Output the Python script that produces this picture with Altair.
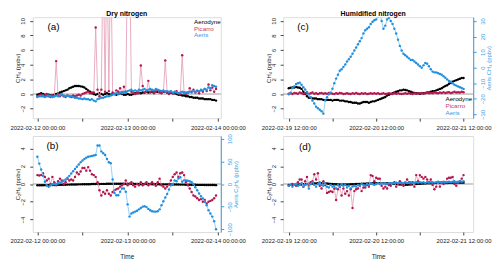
import altair as alt
import pandas as pd

# ---------------- data ----------------
# Dry nitrogen, 30-min steps starting 2022-02-12 00:00 (96 points)
dry_ch4_aerodyne = [
    -0.1, 0.0, 0.1, 0.0, -0.1, -0.2, -0.1, -0.2, -0.2, -0.1,
    0.0, 0.1, 0.2, 0.3, 0.4, 0.5, 0.6, 0.8, 0.9, 1.0,
    1.1, 1.1, 1.1, 1.05, 1.0, 0.9, 0.7, 0.5, 0.3, 0.1,
    0.0, -0.1, 0.0, 0.1, 0.0, -0.1, 0.0, 0.1, 0.0, -0.1,
    0.0, 0.0, -0.1, 0.0, 0.1, 0.0, -0.1, -0.1, 0.0, -0.1,
    -0.1, 0.0, 0.1, 0.1, 0.2, 0.1, 0.2, 0.2, 0.3, 0.2,
    0.3, 0.3, 0.2, 0.3, 0.3, 0.4, 0.3, 0.3, 0.3, 0.2,
    0.2, 0.2, 0.1, 0.1, 0.0, -0.1, -0.1, -0.2, -0.2, -0.3,
    -0.3, -0.4, -0.4, -0.5, -0.5, -0.5, -0.6, -0.6, -0.6, -0.7,
    -0.7, -0.7, -0.7, -0.8, -0.8, -0.9,
]
dry_ch4_picarro = [
    -0.3, -0.2, -0.1, -0.3, -0.2, 0.0, -0.3, -0.4, -0.2, -0.3,
    4.5, -0.2, -0.3, -0.1, -0.3, -0.4, -0.2, -0.3, -0.4, -0.2,
    -0.3, -0.2, -0.1, -0.2, 0.0, 0.1, 0.2, 0.3, 0.1, 0.2,
    0.2, 9.1, 0.6, -0.3, 0.6, 20.0, 0.3, 20.0, 0.4, 20.0,
    0.2, 0.0, 0.5, 0.3, 0.8, 0.2, 1.0, 0.3, 20.0, 20.0,
    0.3, 0.1, 0.0, 0.2, 0.1, 3.9, 1.1, 0.2, 0.3, 1.8,
    0.2, 0.4, 0.1, 0.3, 0.5, 0.2, 0.1, 0.3, 4.6, 0.2,
    0.0, 0.3, 0.1, 0.2, 0.4, 0.1, 0.0, 5.3, 0.2, 0.0,
    0.2, 0.8, 0.3, 0.6, 0.2, 0.4, 0.1, 0.5, 0.3, 0.7,
    0.4, 1.3, 0.5, 0.9, 0.3, 0.7,
]
dry_ch4_aeris = [
    -0.4, -0.3, -0.3, -0.2, -0.4, -0.3, -0.2, -0.3, -0.4, -0.3,
    -0.2, -0.3, -0.2, -0.1, -0.2, -0.3, -0.2, -0.3, -0.3, -0.4,
    -0.5, -0.5, -0.6, -0.6, -0.7, -0.6, -0.7, -0.7, -0.8, -0.7,
    -0.9, -1.0, -0.7, -0.6, -0.5, -0.5, -0.4, -0.3, -0.3, -0.2,
    -0.1, 0.0, 0.1, 0.0, 0.2, 0.1, 0.3, 0.2, 0.4, 0.5,
    0.6, 0.4, 0.5, 0.4, 0.6, 0.5, 0.6, 0.7, 0.5, 0.6,
    0.7, 0.6, 0.5, 0.7, 0.6, 0.5, 0.4, 0.5, 0.3, 0.4,
    0.3, 0.4, 0.2, 0.3, 0.2, 0.1, 0.2, 0.3, 0.1, 0.2,
    0.1, 0.3, 0.2, 0.4, 0.3, 0.5, 0.4, 0.6, 0.5, 0.7,
    0.6, 0.9, 0.8, 1.2, 1.1, 1.0,
]
dry_c2h6_aerodyne = [
    -0.15, -0.15, -0.14, -0.15, -0.13, -0.14, -0.13, -0.12, -0.12, -0.11,
    -0.1, -0.1, -0.09, -0.09, -0.08, -0.08, -0.07, -0.07, -0.06, -0.06,
    -0.05, -0.05, -0.04, -0.04, -0.03, -0.03, -0.02, -0.02, -0.02, -0.01,
    -0.01, 0.0, 0.0, 0.0, 0.01, 0.01, 0.01, 0.02, 0.02, 0.02,
    0.02, 0.02, 0.03, 0.03, 0.03, 0.03, 0.03, 0.03, 0.02, 0.02,
    0.02, 0.02, 0.01, 0.01, 0.01, 0.0, 0.0, 0.0, -0.01, -0.01,
    -0.01, -0.02, -0.02, -0.02, -0.03, -0.03, -0.03, -0.04, -0.04, -0.04,
    -0.05, -0.05, -0.05, -0.06, -0.06, -0.06, -0.07, -0.07, -0.07, -0.08,
    -0.08, -0.08, -0.09, -0.09, -0.09, -0.1, -0.1, -0.1, -0.1, -0.11,
    -0.11, -0.11, -0.12, -0.12, -0.12, -0.13,
]
dry_c2h6_picarro = [
    1.0, 0.95, 1.0, 1.2, 0.8, 0.4, 0.6, 0.0, 0.8, 0.2,
    -0.15, 0.3, 0.6, 0.4, 0.0, 0.2, 0.6, 0.4, 0.5, 0.4,
    0.8, 1.3, 1.1, 1.4, 1.8, 1.8, 1.5, 1.9, 1.5, 1.1,
    1.0, 0.8, 0.2, -0.7, -1.3, -0.9, -1.1, -0.7, -1.1, -1.3,
    -0.9, -0.7, -0.6, -0.5, -0.3, -0.15, 0.0, 0.4, -0.15, 0.0,
    0.2, -0.15, -0.3, 0.0, -0.15, 0.2, -0.15, 0.0, 0.2, -0.15,
    0.0, 0.2, 0.0, -0.2, 0.2, 0.6, -0.15, -0.3, -0.5, -0.3,
    0.0, 0.4, 0.8, 1.1, 1.3, 0.8, 1.2, 1.3, 1.0, 0.2,
    -0.15, -0.5, -0.9, -1.3, -1.4, -1.6, -1.8, -1.7, -2.0, -1.8,
    -2.2, -2.0, -1.9, -1.8, -1.6, -1.3,
]
dry_c2h6_aeris = [  # right axis (Aeris C2H6)
    60, 45, 32, 18, 5, -3, -6, -3, -1, 0,
    0, 1, 3, 5, 7, 10, 14, 18, 23, 28,
    33, 38, 43, 48, 52, 55, 58, 60, 61, 62,
    63, 64, 85, 85, 72, 68, 64, 55, 48, 46,
    10, -20, -25, -25, -17, -10, -10, -17, -45, -72,
    -65, -63, -61, -59, -56, -53, -50, -49, -51, -55,
    -58, -60, -61, -61, -60, -56, -47, -38, -30, -22,
    -12, -3, 0, 8, 6, 12, 15, 5, 8, 8,
    7, 6, 4, 0, -7, -14, -21, -27, -32, -40,
    -47, -58, -65, -72, -82, -100,
]

# Humidified nitrogen, 30-min steps starting 2022-02-19 12:00 (97 points)
hum_ch4_aerodyne = [
    0.8, 0.85, 0.9, 0.9, 0.95, 0.9, 0.85, 0.7, 0.3, 0.0,
    -0.3, -0.5, -0.5, -0.6, -0.6, -0.6, -0.7, -0.7, -0.7, -0.8,
    -0.8, -0.8, -0.8, -0.8, -0.9, -0.8, -0.8, -0.8, -0.9, -0.9,
    -0.9, -1.0, -1.0, -1.1, -1.1, -1.2, -1.2, -1.2, -1.3, -1.3,
    -1.2, -1.1, -1.1, -1.1, -1.2, -1.1, -1.0, -1.0, -0.9, -0.8,
    -0.7, -0.6, -0.5, -0.4, -0.2, -0.1, 0.0, 0.1, 0.2, 0.3,
    0.4, 0.5, 0.5, 0.6, 0.55, 0.5, 0.4, 0.3, 0.2, 0.15,
    0.1, 0.1, 0.05, 0.1, 0.1, 0.15, 0.2, 0.2, 0.3, 0.4,
    0.4, 0.5, 0.6, 0.7, 0.8, 0.95, 1.1, 1.2, 1.4, 1.5,
    1.7, 1.8, 1.9, 2.0, 2.1, 2.2, 2.2,
]
hum_ch4_picarro = [
    0.05, 0.1, 0.0, 0.15, 0.1, 0.05, 0.2, 0.1, 0.0, 0.1, 0.15, 0.05,
    0.1, 0.2, 0.05, 0.1, 0.0, 0.1, 0.15, 0.05, 0.1, 0.05, 0.15, 0.1,
    0.05, 0.0, 0.1, 0.05, 0.15, 0.1, 0.0, 0.05, 0.1, 0.05, 0.0, 0.1,
    0.05, 0.15, 0.05, 0.0, 0.1, 0.05, 0.1, 0.0, 0.05, 0.1, 0.05, 0.1,
    0.05, 0.1, 0.0, 0.05, 0.1, 0.0, 0.05, 0.1, 0.05, 0.0, 0.1, 0.05,
    0.1, 0.05, 0.0, 0.05, 0.1, 0.05, 0.1, 0.05, 0.0, 0.1, 0.05, 0.1,
    0.1, 0.15, 0.05, 0.1, 0.2, 0.1, 0.15, 0.1, 0.2, 0.15, 0.1, 0.2,
    0.15, 0.25, 0.15, 0.2, 0.25, 0.15, 0.2, 0.3, 0.2, 0.25, 0.2, 0.3, 0.25,
]
hum_ch4_aeris = [  # right axis (Aeris CH4)
    -17, -16, -13, -12, -10.5, -10, -9.6, -11, -12.5, -14,
    -15.5, -17, -19, -21, -23, -25, -26, -27, -28, -29.5,
    -21, -19, -17, -16, -13.5, -10, -7, -4.5, -2, -1,
    0.5, 2, 4, 5.5, 7, 9, 11, 13, 15, 17,
    19, 22, 24, 25, 26, 28, 29.5, 30.5, 31, 33,
    36, 30, 25, 27, 31, 32, 30, 28, 25, 22,
    18, 14, 11, 9, 8, 7, 6, 5, 5, 4,
    3, 2, 1, 0, 1.5, 3, 2.5, 1, -1, -2.5,
    -3, -3, -3.5, -4, -4.5, -5.5, -6.5, -7.5, -8.5, -9,
    -10, -11, -11.5, -12, -12.5, -13, -13.6,
]
hum_c2h6_aerodyne = [
    -0.1, -0.1, -0.08, -0.1, -0.08, -0.06, -0.05, -0.05, -0.03, -0.02, 0.0, 0.02,
    0.03, 0.05, 0.06, 0.07, 0.08, 0.08, 0.08, 0.07, 0.06, 0.05, 0.03, 0.01,
    0.0, -0.02, -0.03, -0.05, -0.05, -0.06, -0.06, -0.05, -0.05, -0.04, -0.03, -0.02,
    -0.02, -0.01, 0.0, 0.01, 0.02, 0.03, 0.04, 0.05, 0.06, 0.07, 0.08, 0.08,
    0.09, 0.1, 0.1, 0.1, 0.1, 0.09, 0.08, 0.07, 0.05, 0.03, 0.01, -0.01,
    -0.03, -0.05, -0.06, -0.07, -0.08, -0.08, -0.07, -0.06, -0.04, -0.02, 0.0, 0.02,
    0.03, 0.04, 0.05, 0.06, 0.07, 0.08, 0.08, 0.09, 0.1, 0.1, 0.1, 0.11,
    0.11, 0.12, 0.12, 0.12, 0.13, 0.13, 0.13, 0.14, 0.14, 0.14, 0.15, 0.15, 0.15,
]
hum_c2h6_picarro = [
    -0.2, -0.1, 0.0, -0.1, -0.2, 0.2, 0.5, 0.5, -0.3, 0.3, 0.8, -0.2,
    0.2, 0.3, 1.1, 0.5, 1.2, -0.2, -0.5, 0.3, -0.1, -1.0, -0.9, -0.8,
    -0.9, -0.5, -1.8, -0.6, -0.3, -1.3, -0.5, -1.1, -0.8, -1.3, -0.6, -2.7,
    -0.8, -0.6, -0.5, -0.2, -0.8, -0.4, -0.4, -0.1, -0.3, 1.0, 0.9, 0.3,
    0.7, 0.6, 0.6, -0.2, -0.5, -0.3, -0.5, -0.1, -0.2, 0.1, 0.2, -0.3,
    0.0, 0.3, 0.0, -0.2, 0.1, 0.5, 0.2, 0.0,
    0.2, -0.3, 1.0, 0.3, 1.0, 0.8, 0.6, 0.8,
    0.5, 0.2, 0.5, -0.1, -0.6, -0.3, 0.2, -0.3,
    0.2, 0.0, 0.2, 0.6, 0.7, 0.7, 0.8, 0.0, -0.2, 0.1, 0.3, 0.6, 1.0,
]
hum_c2h6_aeris = [
    -0.2, -0.1, -0.3, -0.1, 0.0, -0.2, -0.1, 0.1, -0.3, -0.1, 0.0, -0.5,
    0.0, 0.2, -0.1, -0.3, 0.0, 0.2, -0.1, -0.2, 0.1, -0.3, -0.4, -0.1,
    -0.3, -0.2, -0.5, -0.1, -0.3, 0.0, -0.2, -0.1, -0.4, -0.2, -0.5, -0.3,
    -0.2, -0.3, -0.1, -0.2, 0.0, -0.1, -0.2, 0.0, -0.1, 0.1, 0.0, -0.1,
    0.0, 0.1, 0.0, 0.1, 0.05, 0.1, 0.0, 0.1, 0.1, 0.05, 0.1, 0.15,
    0.1, 0.1, 0.15, 0.1, 0.2, 0.1, 0.15, 0.2, 0.1, 0.15, 0.2, 0.15,
    0.2, 0.15, 0.2, 0.1, 0.2, 0.15, 0.2, 0.2, 0.15, 0.2, 0.25, 0.2,
    0.2, 0.25, 0.2, 0.2, 0.25, 0.2, 0.25, 0.3, 0.2, 0.25, 0.3, 0.25, 0.3,
]

series_names = ["Aerodyne", "Picarro", "Aeris"]
panel_titles = ["Dry nitrogen", "Humidified nitrogen"]
panel_letters = ["(a)", "(b)", "(c)", "(d)"]

dry_time = pd.date_range("2022-02-12 00:00", periods=len(dry_ch4_picarro), freq="30min")
hum_time = pd.date_range("2022-02-19 12:00", periods=len(hum_ch4_picarro), freq="30min")

df_a = pd.DataFrame({"time": dry_time, "Aerodyne": dry_ch4_aerodyne,
                     "Picarro": dry_ch4_picarro, "Aeris": dry_ch4_aeris})
df_b = pd.DataFrame({"time": dry_time, "Aerodyne": dry_c2h6_aerodyne,
                     "Picarro": dry_c2h6_picarro, "Aeris": dry_c2h6_aeris})
df_c = pd.DataFrame({"time": hum_time, "Aerodyne": hum_ch4_aerodyne,
                     "Picarro": hum_ch4_picarro, "Aeris": hum_ch4_aeris})
df_d = pd.DataFrame({"time": hum_time, "Aerodyne": hum_c2h6_aerodyne,
                     "Picarro": hum_c2h6_picarro, "Aeris": hum_c2h6_aeris})

# ---------------- styling ----------------
FONT = "Liberation Sans"
INK = "#222222"
FRAME = "#444444"
BLUE_AX = "#3a9de6"
COL = {
    "Aerodyne": ("#000000", "#000000"),
    "Picarro": ("#b3174f", "#e6a3bc"),
    "Aeris": ("#1f8fe0", "#8ecbf3"),
}
LEG_COL = {"Aerodyne": "#000000", "Picarro": "#c53d74", "Aeris": "#2f9ae8"}

W_L, W_R = 190, 192
H_T, H_B = 102, 97

DRY_DOM = [alt.DateTime(year=2022, month=2, date=11, hours=22, minutes=46),
           alt.DateTime(year=2022, month=2, date=14, hours=0, minutes=46)]
HUM_DOM = [alt.DateTime(year=2022, month=2, date=19, hours=10, minutes=27),
           alt.DateTime(year=2022, month=2, date=21, hours=14, minutes=39)]
DRY_TICKS = [alt.DateTime(year=2022, month=2, date=d, hours=h)
             for d, h in [(12, 0), (12, 12), (13, 0), (13, 12), (14, 0)]]
HUM_TICKS = [alt.DateTime(year=2022, month=2, date=d, hours=h)
             for d, h in [(19, 12), (20, 0), (20, 12), (21, 0), (21, 12)]]


def text_layer(txt, x, y, size, color, align="left", weight="normal", baseline="middle"):
    return alt.Chart(pd.DataFrame({"t": [txt]})).mark_text(
        text=txt, align=align, baseline=baseline, fontSize=size, font=FONT,
        color=color, fontWeight=weight,
    ).encode(x=alt.value(x), y=alt.value(y))


def anchor_layer(x, y):
    # invisible, zero-size item that fixes the top-left corner of the drawing
    return alt.Chart(pd.DataFrame({"a": [0]})).mark_rule(opacity=0, strokeWidth=0.01).encode(
        x=alt.value(x), x2=alt.value(x + 0.1), y=alt.value(y), y2=alt.value(y + 0.1))


def panel(df, xdom, xticks, label_hour, show_time, w, h, ldom, lvals, ltitle,
          left_series, right=None, extras=()):
    xkw = dict(values=xticks,
               labelExpr=f"hours(datum.value) == {label_hour} ? timeFormat(datum.value, '%Y-%m-%d %H:%M:%S') : ''",
               tickSize=3, tickColor=FRAME, labelFontSize=6, labelFont=FONT, labelColor=INK,
               labelPadding=3, labelFlush=False, labelOverlap=False, domain=False, grid=False)
    if show_time:
        xkw.update(title="Time", titleFontSize=6.5, titleFont=FONT, titleFontWeight="normal",
                   titleColor=INK, titlePadding=10)
    else:
        xkw.update(title="")
    x_enc = alt.X("time:T", scale=alt.Scale(domain=xdom), axis=alt.Axis(**xkw))

    lscale = alt.Scale(domain=ldom, nice=False, zero=False)
    laxis = alt.Axis(values=lvals, orient="left", labelAngle=270, labelAlign="center",
                     labelBaseline="bottom", tickSize=3, tickColor=FRAME, labelPadding=4,
                     labelFontSize=6, labelFont=FONT, labelColor=INK, domain=False, grid=False,
                     title=ltitle, titleAngle=270, titleX=-15, titleY=h / 2,
                     titleAlign="center", titleBaseline="middle", titleFontSize=6,
                     titleFont=FONT, titleFontWeight="normal", titleColor=INK)

    base = alt.Chart(df)
    left_layers = [
        alt.Chart(pd.DataFrame({"y": [0]})).mark_rule(color="#9c9c9c", strokeWidth=1)
        .encode(y=alt.Y("y:Q", scale=lscale, axis=laxis))
    ]
    for name in left_series:
        dark, light = COL[name]
        left_layers.append(base.mark_line(color=light, strokeWidth=0.9, clip=True)
                           .encode(x=x_enc, y=alt.Y(f"{name}:Q", scale=lscale, axis=laxis)))
        left_layers.append(base.mark_point(filled=True, size=6, color=dark, opacity=1,
                                           strokeWidth=0, clip=True)
                           .encode(x=x_enc, y=alt.Y(f"{name}:Q", scale=lscale, axis=laxis)))
    left = alt.layer(*left_layers)

    if right is not None:
        rdom, rvals, rtitle = right
        rscale = alt.Scale(domain=rdom, nice=False, zero=False)
        raxis = alt.Axis(values=rvals, orient="right", labelAngle=270, labelAlign="center",
                         labelBaseline="top", tickSize=3, tickColor=BLUE_AX, labelPadding=3,
                         labelFontSize=6, labelFont=FONT, labelColor=BLUE_AX, domain=True,
                         domainColor=BLUE_AX, grid=False, title=rtitle, titleAngle=270,
                         titleX=15, titleY=h / 2, titleAlign="center", titleBaseline="middle",
                         titleFontSize=6, titleFont=FONT, titleFontWeight="normal",
                         titleColor=BLUE_AX)
        dark, light = COL["Aeris"]
        rlayer = alt.layer(
            base.mark_line(color=light, strokeWidth=0.9, clip=True)
            .encode(x=x_enc, y=alt.Y("Aeris:Q", scale=rscale, axis=raxis)),
            base.mark_point(filled=True, size=6, color=dark, opacity=1, strokeWidth=0, clip=True)
            .encode(x=x_enc, y=alt.Y("Aeris:Q", scale=rscale, axis=raxis)),
        )
        ch = alt.layer(left, rlayer, *extras).resolve_scale(y="independent")
    else:
        ch = alt.layer(left, *extras)
    return ch.properties(width=w, height=h)


def legend(x0, y0):
    return [text_layer(n, x0, y0 + i * 6.7, 6.3, LEG_COL[n]) for i, n in enumerate(series_names)]


pa = panel(df_a, DRY_DOM, DRY_TICKS, 0, False, W_L, H_T, [-3.3, 10.5],
           [-2, 0, 2, 4, 6, 8, 10], "CH\u2084 (ppbv)", series_names,
           extras=[anchor_layer(-24, -7),
                   text_layer(panel_letters[0], 21, 10, 10, "#000", align="center"),
                   text_layer(panel_titles[0], 95, -1.5, 7, "#000", align="center",
                              weight="bold", baseline="alphabetic")] + legend(163, 5))
pc = panel(df_c, HUM_DOM, HUM_TICKS, 12, False, W_R, H_T, [-3.3, 10.5],
           [-2, 0, 2, 4, 6, 8, 10], "CH\u2084 (ppbv)", ["Aerodyne", "Picarro"],
           right=([-32.4, 32.4], [-30, -20, -10, 0, 10, 20, 30], "Aeris CH\u2084 (ppbv)"),
           extras=[text_layer(panel_letters[2], 20, 10, 10, "#000", align="center"),
                   text_layer(panel_titles[1], 91, -1.5, 7, "#000", align="center",
                              weight="bold", baseline="alphabetic")] + legend(164, 83))
pb = panel(df_b, DRY_DOM, DRY_TICKS, 0, True, W_L, H_B, [-5.4, 5.4],
           [-4, -2, 0, 2, 4], "C\u2082H\u2086 (ppbv)", ["Aerodyne", "Picarro"],
           right=([-106, 106], [-100, -50, 0, 50, 100], "Aeris C\u2082H\u2086 (ppbv)"),
           extras=[text_layer(panel_letters[1], 20, 10, 10, "#000", align="center")])
pd_ = panel(df_d, HUM_DOM, HUM_TICKS, 12, True, W_R, H_B, [-5.4, 5.4],
            [-4, -2, 0, 2, 4], "C\u2082H\u2086 (ppbv)", series_names,
            extras=[text_layer(panel_letters[3], 22, 11, 10, "#000", align="center")])

chart = alt.ConcatChart(
    concat=[pa, pc, pb, pd_],
    columns=2,
    spacing={"row": 18, "column": 63},
    bounds="flush",
    padding={"left": 0, "top": 0, "right": 0, "bottom": 0},
).configure_view(stroke=FRAME, strokeWidth=0.8).configure(font=FONT, background="white")

chart.save("out.html", embed_options={"renderer": "svg", "actions": False})
